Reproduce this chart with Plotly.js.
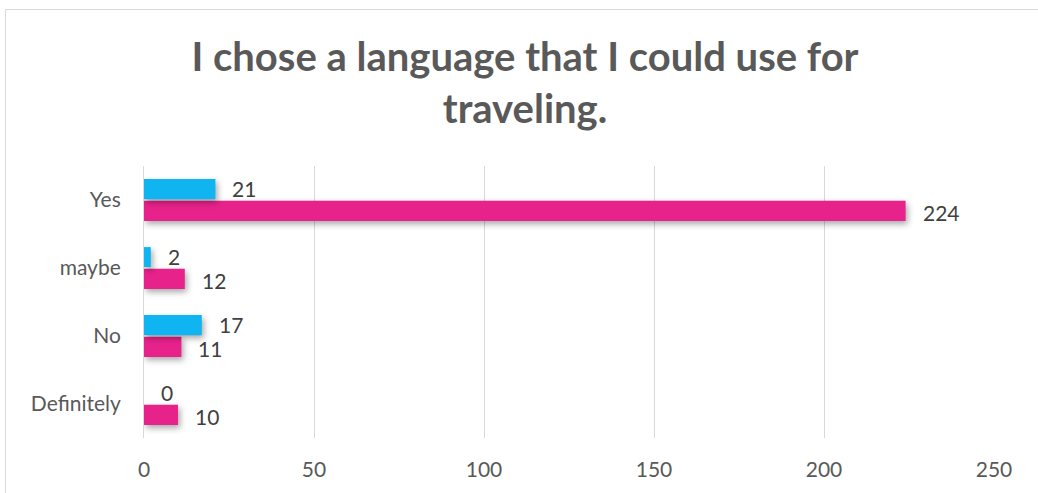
<!DOCTYPE html>
<html>
<head>
<meta charset="utf-8">
<script src="https://cdn.plot.ly/plotly-3.0.1.min.js"></script>
<style>
  html, body { margin: 0; padding: 0; background: #fff; }
  #wrap { position: relative; width: 1038px; height: 493px; overflow: hidden; }
  #chart { width: 1038px; height: 493px; }
  #frame { position: absolute; left: 5px; top: 9px; width: 1100px; height: 600px;
           border: 1px solid #d9d9d9; pointer-events: none; box-sizing: border-box; }
  #chart .trace.bars path { filter: drop-shadow(2px 3px 3px rgba(0,0,0,0.35)); }
</style>
</head>
<body>
<div id="wrap">
  <div id="chart"></div>
  <div id="frame"></div>
</div>
<script>
const categories = ["Definitely", "No", "maybe", "Yes"];
const blueValues = [0, 17, 2, 21];
const pinkValues = [10, 11, 12, 224];
const xTicks = [0, 50, 100, 150, 200, 250];
const titleText = "I chose a language that I could use for<br>traveling.";

const FONT = "Lato, 'Open Sans', sans-serif";

const pink = {
  type: "bar", orientation: "h", name: "pink",
  y: categories, x: pinkValues,
  marker: { color: "#e8228b", line: { width: 0 } },
  hoverinfo: "x+y"
};
const blue = {
  type: "bar", orientation: "h", name: "blue",
  y: categories, x: blueValues,
  marker: { color: "#0fb4f1", line: { width: 0 } },
  hoverinfo: "x+y"
};

const annotations = [];
categories.forEach((c, i) => {
  annotations.push({ x: blueValues[i], y: c, text: String(blueValues[i]), xref: "x", yref: "y",
    showarrow: false, xanchor: "left", yanchor: "middle", xshift: 15, yshift: 12,
    font: { family: FONT, size: 21, color: "#404040" } });
  annotations.push({ x: pinkValues[i], y: c, text: String(pinkValues[i]), xref: "x", yref: "y",
    showarrow: false, xanchor: "left", yanchor: "middle", xshift: 15, yshift: -12,
    font: { family: FONT, size: 21, color: "#404040" } });
});

const layout = {
  width: 1038, height: 493,
  margin: { l: 144, r: 44, t: 166, b: 55 },
  paper_bgcolor: "#ffffff", plot_bgcolor: "#ffffff",
  showlegend: false,
  barmode: "group",
  bargap: 0.36,
  bargroupgap: 0.08,
  title: {
    text: titleText,
    font: { family: FONT, size: 40, color: "#595959", weight: "bold" },
    x: 525 / 1038, xanchor: "center", xref: "container",
    y: 0.855, yanchor: "top", yref: "container"
  },
  xaxis: {
    range: [0, 250], tickvals: xTicks, ticktext: xTicks.map(String),
    showgrid: true, gridcolor: "#d9d9d9", gridwidth: 1,
    zeroline: false, showline: false, ticks: "",
    ticklabelstandoff: 17,
    tickfont: { family: FONT, size: 21, color: "#595959" }
  },
  yaxis: {
    type: "category", categoryorder: "array", categoryarray: categories,
    showgrid: false, zeroline: false,
    showline: true, linecolor: "#d9d9d9", linewidth: 1,
    ticks: "", ticklabelstandoff: 18,
    tickfont: { family: FONT, size: 21, color: "#595959" }
  },
  annotations: annotations
};

Plotly.newPlot("chart", [pink, blue], layout, { displayModeBar: false, staticPlot: true });
</script>
</body>
</html>
